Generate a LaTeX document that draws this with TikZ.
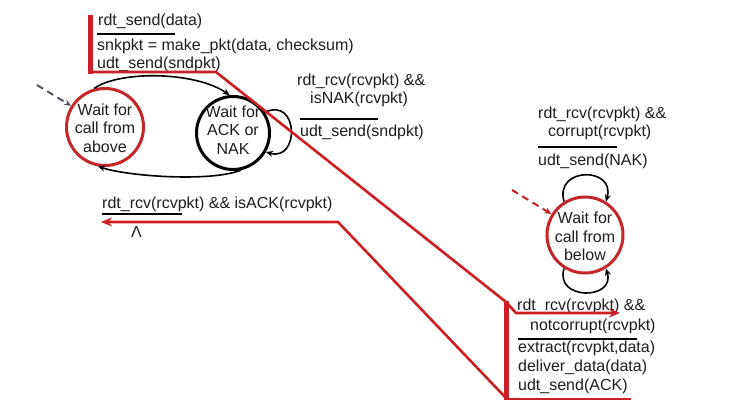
\documentclass[tikz,border=0pt]{standalone}
\usepackage{fontspec}
\setmainfont{Liberation Sans}
\usetikzlibrary{arrows.meta}
\definecolor{annred}{RGB}{204,30,36}
\definecolor{circred}{RGB}{196,38,44}
\definecolor{ink}{RGB}{30,30,30}
\definecolor{dashgray}{RGB}{80,84,92}
\begin{document}
\begin{tikzpicture}[x=1pt,y=-1pt,
  lbl/.style={anchor=west,inner sep=0pt,text height=11.5pt,text depth=3.5pt,font=\fontsize{16}{19}\selectfont,text=ink},
  state/.style={circle,line width=3pt,inner sep=0pt},
  statetext/.style={align=center,inner sep=0pt,font=\fontsize{16}{18.5}\selectfont,text=ink},
  guard/.style={draw=black,line width=2pt},
  trans/.style={draw=black,line width=1.6pt,-{Stealth[length=7pt,width=6pt]}},
  ann/.style={draw=annred,line width=2.6pt},
  annarrow/.style={ann,-{Stealth[length=11pt,width=9pt]}},
  bar/.style={draw=annred,line width=5pt},
  entry/.style={line width=2pt,dash pattern=on 7pt off 5pt,-{Stealth[length=7pt,width=6pt]}}]
\fill[white] (0,0) rectangle (747,411);
\useasboundingbox (0,0) rectangle (747,411);

% states
\node[state,draw=circred,minimum size=77pt] (s1) at (105,127) {};
\node[statetext] (s1t) at (105,128) {Wait for\\call from\\above};
\node[state,draw=black,minimum size=73pt] (s2) at (233,133) {};
\node[statetext] (s2t) at (233,130) {Wait for\\ACK or\\NAK};
\node[state,draw=circred,minimum size=76pt] (r) at (585,235) {};
\node[statetext] (rt) at (585,236.5) {Wait for\\call from\\below};

% entry arrows
\coordinate (e1) at (37,85);
\coordinate (e2) at (512,190);
\draw[entry,draw=dashgray] (e1) -- (s1.148);
\draw[entry,draw=annred] (e2) -- (r.148);

% transitions
\draw[trans] (s1.106) .. controls +(25,-18) and +(-35,-24) .. (s2.95);
\draw[trans] (s2.282) .. controls +(-30,12) and +(30,10) .. (s1.260);
\draw[trans] (s2.33) .. controls +(34,-16) and +(34,10) .. (s2.-30);
\draw[trans] (r.122) .. controls +(-10,-35) and +(10,-35) .. (r.58);
\draw[trans] (r.238) .. controls +(-10,32) and +(10,32) .. (r.302);

% labels sender
\node[lbl] (a1) at (98,22) {rdt\_send(data)};
\node[lbl] (a2) at (97,47) {snkpkt = make\_pkt(data, checksum)};
\node[lbl] (a3) at (97,65) {udt\_send(sndpkt)};
\draw[guard] (97,34) -- (175,34);

\node[lbl] (b1) at (297,82) {rdt\_rcv(rcvpkt) \&\&};
\node[lbl] (b2) at (310,100) {isNAK(rcvpkt)};
\draw[guard] (300,119) -- (378,119);
\node[lbl] (b3) at (300,133) {udt\_send(sndpkt)};

\node[lbl] (c1) at (102,205) {rdt\_rcv(rcvpkt) \&\& isACK(rcvpkt)};
\draw[guard] (102,214) -- (182,214);
\node[lbl] (c2) at (131,234) {Λ};

% labels receiver
\node[lbl] (d1) at (538,115) {rdt\_rcv(rcvpkt) \&\&};
\node[lbl] (d2) at (548,133) {corrupt(rcvpkt)};
\draw[guard] (538,147) -- (617,147);
\node[lbl] (d3) at (538,162) {udt\_send(NAK)};

\node[lbl] (f1) at (517,307) {rdt\_rcv(rcvpkt) \&\&};
\node[lbl] (f2) at (530,327) {notcorrupt(rcvpkt)};
\draw[guard] (518,339) -- (637,339);
\node[lbl] (f3) at (518,349) {extract(rcvpkt,data)};
\node[lbl] (f4) at (518,368) {deliver\_data(data)};
\node[lbl] (f5) at (518,387) {udt\_send(ACK)};

% red annotation overlay
\draw[bar] (90.5,15) -- (90.5,74);
\draw[ann] (90,72) -- (216,72) -- (506,302);
\draw[bar] (506,301) -- (506,400);
\draw[annarrow] (506,302) -- (516,313) -- (620,313);
\draw[ann] (506,399) -- (631,399);
\draw[annarrow] (506,398) -- (338,222) -- (101,222);
\end{tikzpicture}
\end{document}
